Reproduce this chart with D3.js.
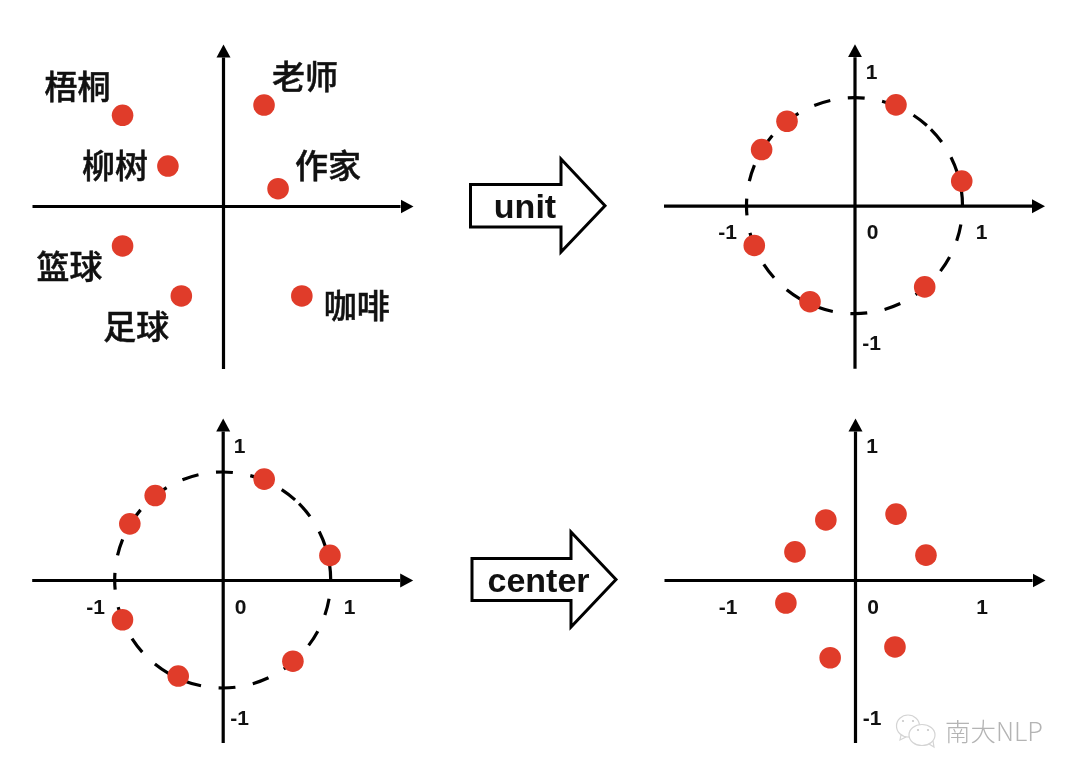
<!DOCTYPE html>
<html>
<head>
<meta charset="utf-8">
<script src="https://cdn.jsdelivr.net/npm/d3@7"></script>
<style>
  html, body { margin: 0; background: #fff; }
  svg { display: block; filter: blur(0.45px); }
</style>
</head>
<body>
<div id="chart"></div>
<script>
//DATA ************************************************************************
// x,y are in axis units (1 = the dashed circle radius)
const words = ['梧桐', '柳树', '老师', '作家', '篮球', '足球', '咖啡'];
const rawX = [-0.93, -0.51, 0.38, 0.51, -0.93, -0.386, 0.73];
const rawY = [0.84, 0.37, 0.935, 0.16, -0.37, -0.833, -0.833];

const unitX = [0.384, 0.993, -0.625, -0.86, -0.928, -0.412, 0.65];
const unitY = [0.934, 0.228, 0.782, 0.52, -0.368, -0.889, -0.752];

const centerX = [0.38, 0.657, -0.27, -0.556, -0.64, -0.23, 0.37];
const centerY = [0.61, 0.23, 0.556, 0.26, -0.213, -0.72, -0.62];

const xTicks = [-1, 0, 1];
const yTicks = [-1, 1];
const arrowLabels = ['unit', 'center'];
const markName = '南大NLP';

//LAYOUT **********************************************************************
const width = 1080, height = 778;
const unitPx = 108;            // px for one axis unit
const headLen = 13;
const red = '#e03c2a';
const latin = '"Liberation Sans", Arial, sans-serif';
const cjk = '"Noto Sans CJK SC", "Noto Sans", sans-serif';

// label offsets from the dot, px
const wordOffset = {
  '梧桐': [-45, -28], '柳树': [-53, 0], '老师': [41, -28], '作家': [50, -23],
  '篮球': [-53, 21], '足球': [-45, 31], '咖啡': [55, 10]
};
const xTickDx = { '-1': -19.5, '0': 17.5, '1': 18.5 };

const svg = d3.select('#chart').append('svg')
  .attr('width', width)
  .attr('height', height)
  .attr('viewBox', `0 0 ${width} ${height}`);

svg.append('defs').append('marker')
  .attr('id', 'head')
  .attr('markerUnits', 'userSpaceOnUse')
  .attr('markerWidth', headLen + 1)
  .attr('markerHeight', 16)
  .attr('refX', 0)
  .attr('refY', 8)
  .attr('orient', 'auto')
  .append('path')
  .attr('d', `M0,1L${headLen},8L0,15Z`)
  .attr('fill', '#000');

function drawPanel(ox, oy, xs, ys, opts) {
  const g = svg.append('g');
  const x = d3.scaleLinear()
    .domain([-191 / unitPx, (190 - headLen) / unitPx])
    .range([ox - 191, ox + 190 - headLen]);
  const y = d3.scaleLinear()
    .domain([-162.5 / unitPx, (162 - headLen) / unitPx])
    .range([oy + 162.5, oy - 162 + headLen]);

  // dashed circle, starts at 45deg and runs clockwise
  if (opts.circle) {
    g.append('circle')
      .attr('cx', x(0))
      .attr('cy', y(0))
      .attr('r', x(1) - x(0))
      .attr('fill', 'none')
      .attr('stroke', '#000')
      .attr('stroke-width', 3.2)
      .attr('stroke-dasharray', '16.8 17.7')
      .attr('transform', `rotate(-45 ${x(0)} ${y(0)})`);
  }

  const xAxis = d3.axisBottom(x).tickSize(0).tickSizeOuter(0)
    .tickValues(opts.ticks ? xTicks : []).tickFormat(d => String(d));
  const yAxis = d3.axisRight(y).tickSize(0).tickSizeOuter(0)
    .tickValues(opts.ticks ? yTicks : []).tickFormat(d => String(d));

  const gx = g.append('g').attr('transform', `translate(0,${oy})`).call(xAxis);
  const gy = g.append('g').attr('transform', `translate(${ox},0)`).call(yAxis);

  [gx, gy].forEach(a => {
    a.select('.domain')
      .attr('stroke', '#000')
      .attr('stroke-width', 3.2)
      .attr('marker-end', 'url(#head)');
    a.selectAll('.tick line').remove();
    a.selectAll('text')
      .attr('font-family', latin)
      .attr('font-size', 21)
      .attr('font-weight', 'bold')
      .attr('fill', '#111')
      .attr('text-anchor', 'middle');
  });
  gx.selectAll('text')
    .attr('x', d => xTickDx[d])
    .attr('y', 26)
    .attr('dy', '0.36em');
  gy.selectAll('text')
    .attr('x', 17)
    .attr('y', d => d > 0 ? -27 : 28.5)
    .attr('dy', '0.36em');

  g.selectAll('.dot')
    .data(xs)
    .enter()
    .append('circle')
    .attr('class', 'dot')
    .attr('cx', d => x(d))
    .attr('cy', (d, i) => y(ys[i]))
    .attr('r', 10.8)
    .attr('fill', red);

  if (opts.words) {
    g.selectAll('.word')
      .data(opts.words)
      .enter()
      .append('text')
      .attr('class', 'word')
      .attr('x', (d, i) => x(xs[i]) + wordOffset[d][0])
      .attr('y', (d, i) => y(ys[i]) + wordOffset[d][1])
      .attr('dy', '0.36em')
      .attr('text-anchor', 'middle')
      .attr('font-family', cjk)
      .attr('font-size', 33)
      .attr('font-weight', 500)
      .attr('fill', '#111')
      .attr('stroke', '#111')
      .attr('stroke-width', 0.5)
      .text(d => d);
  }
}

drawPanel(223, 206, rawX, rawY, { words: words });
drawPanel(854.5, 205.7, unitX, unitY, { circle: true, ticks: true });
drawPanel(222.7, 580, unitX, unitY, { circle: true, ticks: true });
drawPanel(855, 580, centerX, centerY, { ticks: true });

//BLOCK ARROWS ****************************************************************
function blockArrow(left, top, bottom, neck, headTop, headBottom, tip, textX, label) {
  const midY = (top + bottom) / 2;
  svg.append('path')
    .attr('d', d3.line()([
      [left, top], [neck, top], [neck, headTop], [tip, midY],
      [neck, headBottom], [neck, bottom], [left, bottom]
    ]) + 'Z')
    .attr('fill', '#fff')
    .attr('stroke', '#000')
    .attr('stroke-width', 3)
    .attr('stroke-linejoin', 'miter');
  svg.append('text')
    .attr('x', textX)
    .attr('y', midY + 0.8)
    .attr('dy', '0.34em')
    .attr('text-anchor', 'middle')
    .attr('font-family', latin)
    .attr('font-size', 34)
    .attr('font-weight', 'bold')
    .attr('fill', '#111')
    .text(label);
}
blockArrow(470.5, 184.5, 227, 561, 159, 252, 605, 525, arrowLabels[0]);
blockArrow(472, 558.5, 600.5, 571, 532, 627, 616, 538.5, arrowLabels[1]);

//WATERMARK *******************************************************************
const wm = svg.append('g').attr('fill', 'none').attr('stroke', '#d4d4d4').attr('stroke-width', 1.2);
wm.append('ellipse').attr('cx', 908).attr('cy', 726).attr('rx', 11.5).attr('ry', 11);
wm.append('ellipse').attr('cx', 922).attr('cy', 735).attr('rx', 13).attr('ry', 10.5).attr('fill', '#fff');
wm.append('path').attr('d', 'M901,735L900,740L906,737M929,744L934,747L933,741');
wm.selectAll('.eye')
  .data([[903, 721], [913, 721], [918, 730], [928, 730]])
  .enter()
  .append('circle')
  .attr('class', 'eye')
  .attr('cx', d => d[0])
  .attr('cy', d => d[1])
  .attr('r', 1.1)
  .attr('fill', '#c8c8c8')
  .attr('stroke', 'none');
svg.append('text')
  .attr('x', 945)
  .attr('y', 732)
  .attr('dy', '0.36em')
  .attr('font-family', cjk)
  .attr('font-size', 25.5)
  .attr('font-weight', 300)
  .attr('fill', '#b4b4b4')
  .text(markName);
</script>
</body>
</html>
